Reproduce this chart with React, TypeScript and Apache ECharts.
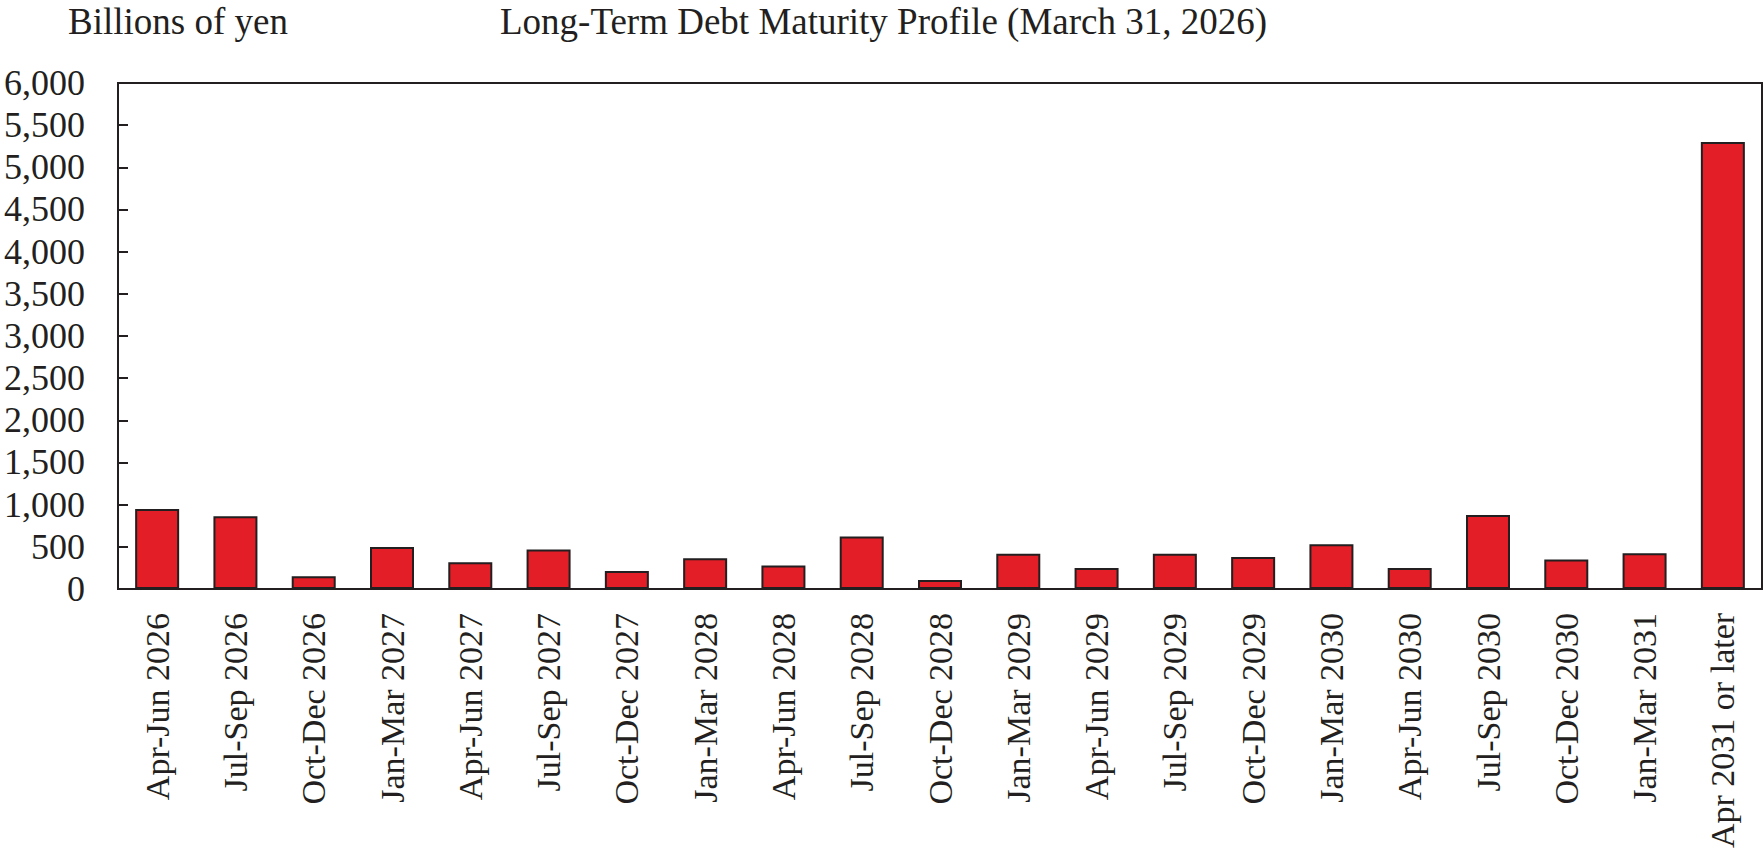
import React, { useEffect, useRef } from "react";
import * as echarts from "echarts";

const categories = [
  "Apr-Jun 2026", "Jul-Sep 2026", "Oct-Dec 2026", "Jan-Mar 2027",
  "Apr-Jun 2027", "Jul-Sep 2027", "Oct-Dec 2027", "Jan-Mar 2028",
  "Apr-Jun 2028", "Jul-Sep 2028", "Oct-Dec 2028", "Jan-Mar 2029",
  "Apr-Jun 2029", "Jul-Sep 2029", "Oct-Dec 2029", "Jan-Mar 2030",
  "Apr-Jun 2030", "Jul-Sep 2030", "Oct-Dec 2030", "Jan-Mar 2031",
  "Apr 2031 or later",
];

const maturities = [
  948, 861, 151, 496, 317, 468, 212, 365, 279, 621, 106, 417,
  248, 417, 377, 530, 248, 876, 350, 424, 5300,
];

const unitLabel = "Billions of yen";
const chartTitle = "Long-Term Debt Maturity Profile (March 31, 2026)";

const FONT = '"Liberation Serif", "Times New Roman", serif';
const INK = "#231f20";

export default function App() {
  const ref = useRef<HTMLDivElement>(null);

  useEffect(() => {
    if (!ref.current) return;
    const chart = echarts.init(ref.current, undefined, { renderer: "svg" });
    chart.setOption({
      animation: false,
      backgroundColor: "#ffffff",
      textStyle: { fontFamily: FONT, color: INK },
      graphic: [
        {
          type: "text",
          left: 68,
          top: 3,
          style: { text: unitLabel, font: `37px ${FONT}`, fill: INK },
        },
        {
          type: "text",
          left: 500,
          top: 3,
          style: { text: chartTitle, font: `37px ${FONT}`, fill: INK },
        },
      ],
      grid: {
        left: 118,
        right: 1,
        top: 83,
        bottom: 259,
        show: true,
        borderColor: INK,
        borderWidth: 2,
        backgroundColor: "transparent",
      },
      xAxis: {
        type: "category",
        data: categories,
        axisLine: { lineStyle: { color: INK, width: 2 } },
        axisTick: { show: false },
        axisLabel: {
          rotate: 90,
          margin: 24,
          interval: 0,
          fontFamily: FONT,
          fontSize: 34,
          color: INK,
        },
      },
      yAxis: {
        type: "value",
        min: 0,
        max: 6000,
        interval: 500,
        splitLine: { show: false },
        axisLine: { show: true, lineStyle: { color: INK, width: 2 } },
        axisTick: { show: true, inside: true, length: 10, lineStyle: { color: INK, width: 2 } },
        axisLabel: {
          margin: 33,
          fontFamily: FONT,
          fontSize: 36,
          color: INK,
          formatter: (v: number) => v.toLocaleString("en-US"),
        },
      },
      series: [
        {
          type: "bar",
          data: maturities,
          barWidth: 44,
          itemStyle: { color: "#e31e26", borderColor: INK, borderWidth: 2 },
        },
      ],
    });
    return () => chart.dispose();
  }, []);

  return (
    <div
      ref={ref}
      style={{ position: "fixed", left: 0, top: 0, width: 1763, height: 851 }}
    />
  );
}
